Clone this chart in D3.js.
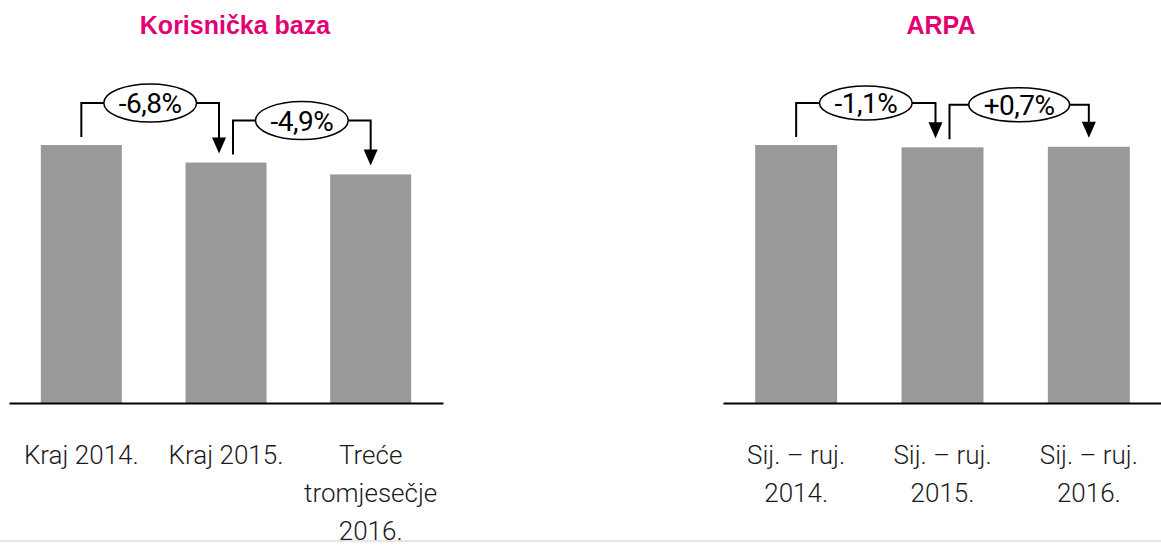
<!DOCTYPE html>
<html>
<head>
<meta charset="utf-8">
<script src="https://cdn.jsdelivr.net/npm/d3@7"></script>
<style>
  body { margin: 0; background: #fff; }
  svg { display: block; font-family: "Liberation Sans", Arial, sans-serif; }
</style>
</head>
<body>
<script>
// data
var baseTitle = "Korisnička baza";
var baseCats = [["Kraj 2014."], ["Kraj 2015."], ["Treće", "tromjesečje", "2016."]];
var baseValues = [100, 93.2, 88.6];
var baseChanges = ["-6,8%", "-4,9%"];

var arpaTitle = "ARPA";
var arpaCats = [["Sij. – ruj.", "2014."], ["Sij. – ruj.", "2015."], ["Sij. – ruj.", "2016."]];
var arpaValues = [100, 99.1, 99.3];
var arpaChanges = ["-1,1%", "+0,7%"];

var width = 1161, height = 552;
var baseline = 403, topY = 145;
var magenta = "#e20074";

var svg = d3.select("body").append("svg")
    .attr("width", width)
    .attr("height", height);

// light divider at bottom
svg.append("line")
    .attr("x1", 0).attr("x2", width)
    .attr("y1", 541).attr("y2", 541)
    .style("stroke", "#e6e6e6")
    .style("stroke-width", 2);

var y = d3.scaleLinear()
    .domain([0, 100])
    .range([baseline, topY]);

drawChart(baseTitle, baseCats, baseValues, baseChanges, [9, 443], 235, 19);
drawChart(arpaTitle, arpaCats, arpaValues, arpaChanges, [723, 1162], 941, 17);

function drawChart(title, cats, values, changes, range, titleX, ry) {
    var keys = cats.map(function(c, i) { return i; });
    var x = d3.scaleBand()
        .domain(keys)
        .range(range)
        .paddingInner(0.44)
        .paddingOuter(0.22);

    var g = svg.append("g");

    g.append("text")
        .attr("x", titleX)
        .attr("y", 34)
        .attr("text-anchor", "middle")
        .style("font-size", "25px")
        .style("font-weight", "bold")
        .style("fill", magenta)
        .text(title);

    g.selectAll("rect")
        .data(values)
        .enter()
        .append("rect")
        .attr("x", function(d, i) { return x(i); })
        .attr("y", function(d) { return y(d); })
        .attr("width", x.bandwidth())
        .attr("height", function(d) { return baseline - y(d); })
        .style("fill", "#999999");

    var axis = g.append("g")
        .attr("transform", "translate(0," + baseline + ")")
        .call(d3.axisBottom(x).tickSize(0).tickSizeOuter(0));

    axis.select(".domain")
        .style("stroke", "#000")
        .style("stroke-width", 2);

    axis.selectAll(".tick text")
        .attr("y", 0)
        .attr("dy", null)
        .style("font-family", "Roboto, sans-serif")
        .style("font-weight", 300)
        .style("font-size", "26px")
        .style("fill", "#1a1a1a")
        .text("")
        .each(function(i) {
            var t = d3.select(this);
            cats[i].forEach(function(line, k) {
                t.append("tspan")
                    .attr("x", 0)
                    .attr("y", 61 + k * 38)
                    .text(line);
            });
        });

    // change brackets between neighbouring bars
    var n = values.length;
    changes.forEach(function(label, i) {
        var j = i + 1;
        var cx0 = x(i) + x.bandwidth() / 2 + (i > 0 ? 7 : 0);
        var cx1 = x(j) + x.bandwidth() / 2 - (j < n - 1 ? 7 : 0);
        var y0 = y(values[i]) - 8;
        var y1 = y(values[j]) - 9;
        var level = Math.min(y(values[i]), y(values[j])) - 42;
        var mid = (cx0 + cx1) / 2;

        var b = g.append("g");

        b.append("path")
            .attr("d", "M" + cx0 + "," + y0 + "V" + level + "H" + cx1 + "V" + (y1 - 15))
            .style("fill", "none")
            .style("stroke", "#000")
            .style("stroke-width", 2);

        b.append("path")
            .attr("d", "M" + (cx1 - 7) + "," + (y1 - 16) + "L" + (cx1 + 7) + "," + (y1 - 16) + "L" + cx1 + "," + y1 + "Z")
            .style("fill", "#000");

        var txt = b.append("text")
            .attr("x", mid)
            .attr("y", level + 10)
            .attr("text-anchor", "middle")
            .style("font-family", "Roboto, sans-serif")
            .style("font-size", "28px")
            .style("letter-spacing", "-0.5px")
            .style("fill", "#000")
            .text(label);

        var tw = txt.node().getComputedTextLength();

        b.insert("ellipse", "text")
            .attr("cx", mid)
            .attr("cy", level)
            .attr("rx", tw / 2 + 15)
            .attr("ry", ry)
            .style("fill", "#fff")
            .style("stroke", "#000")
            .style("stroke-width", 1.5);
    });
}
</script>
</body>
</html>
